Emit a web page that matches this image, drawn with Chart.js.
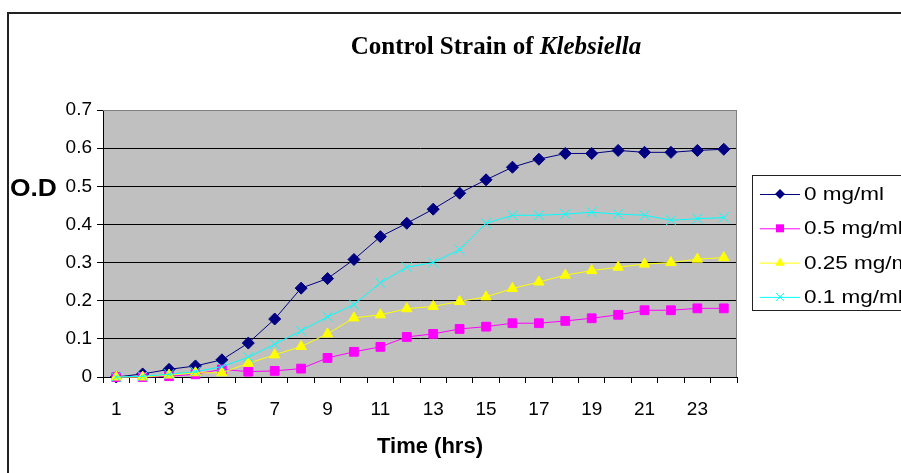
<!DOCTYPE html>
<html>
<head>
<meta charset="utf-8">
<title>Control Strain of Klebsiella</title>
<script src="https://cdn.jsdelivr.net/npm/chart.js@4.4.0/dist/chart.umd.min.js"></script>
<style>
    html, body { margin: 0; padding: 0; background: #fff; }
    #wrap { position: relative; width: 901px; height: 473px; overflow: hidden; }
    #frame { position: absolute; left: 7px; top: 12px; width: 1000px; height: 1000px;
             border-left: 2px solid #222; border-top: 2px solid #222; }
    canvas { position: absolute; left: 0; top: 0; }
    .txt { position: absolute; white-space: nowrap; color: #000; line-height: 1; }
    #title { left: 296px; width: 400px; top: 32px; text-align: center;
             font: bold 25px 'Liberation Serif', 'Times New Roman', serif; }
    #ytitle { left: 10px; top: 174px; font: bold 24px 'Liberation Sans', Arial, sans-serif;
              transform: scaleX(1.1); transform-origin: left center; }
    #xtitle { left: 330px; width: 200px; top: 433px; text-align: center;
              font: bold 22px 'Liberation Sans', Arial, sans-serif; }
</style>
</head>
<body>
<div id="wrap">
    <div id="frame"></div>
    <canvas id="odChart" width="901" height="473"></canvas>
    <div class="txt" id="title">Control Strain of <i>Klebsiella</i></div>
    <div class="txt" id="ytitle">O.D</div>
    <div class="txt" id="xtitle">Time (hrs)</div>
</div>
<script>
// Time points (hrs)
const hours = ['1', '2', '3', '4', '5', '6', '7', '8', '9', '10', '11', '12',
               '13', '14', '15', '16', '17', '18', '19', '20', '21', '22', '23', '24'];

// O.D readings per concentration
const od0mg = [0, 0.008, 0.02, 0.029, 0.045, 0.089, 0.152, 0.233, 0.258, 0.308, 0.368, 0.403,
               0.44, 0.482, 0.517, 0.55, 0.571, 0.586, 0.586, 0.594, 0.589, 0.589, 0.594, 0.597];
const od05mg = [0, 0, 0.002, 0.007, 0.02, 0.014, 0.016, 0.022, 0.05, 0.066, 0.079, 0.105,
                0.113, 0.126, 0.132, 0.141, 0.141, 0.147, 0.154, 0.163, 0.175, 0.175, 0.18, 0.18];
const od025mg = [0, 0, 0.005, 0.011, 0.011, 0.036, 0.058, 0.08, 0.113, 0.155, 0.163, 0.179,
                 0.185, 0.198, 0.21, 0.232, 0.249, 0.267, 0.279, 0.288, 0.296, 0.3, 0.309, 0.313];
const od01mg = [0, 0.002, 0.007, 0.014, 0.027, 0.052, 0.086, 0.121, 0.158, 0.19, 0.247, 0.288,
                0.3, 0.334, 0.403, 0.424, 0.424, 0.427, 0.432, 0.427, 0.424, 0.411, 0.415, 0.418];

const seriesNames = ['0 mg/ml', '0.5 mg/ml', '0.25 mg/ml', '0.1 mg/ml'];
const odTicks = ['0', '0.1', '0.2', '0.3', '0.4', '0.5', '0.6', '0.7'];

const seriesColors = ['#000080', '#FF00FF', '#FFFF00', '#00FFFF'];
const seriesStyles = ['rectRot', 'rect', 'triangle', 'crossRot'];
const seriesRadius = [6, 6.2, 6, 7];

const FONT = "'Liberation Sans', Arial, sans-serif";

function drawMarker(ctx, style, x, y, r, color) {
    ctx.save();
    ctx.fillStyle = color;
    ctx.strokeStyle = color;
    ctx.lineWidth = 1;
    ctx.beginPath();
    if (style === 'rectRot') {
        ctx.moveTo(x, y - r); ctx.lineTo(x + r, y); ctx.lineTo(x, y + r); ctx.lineTo(x - r, y);
        ctx.closePath(); ctx.fill();
    } else if (style === 'rect') {
        const s = r * 0.8;
        ctx.rect(x - s, y - s, 2 * s, 2 * s); ctx.fill();
    } else if (style === 'triangle') {
        ctx.moveTo(x, y - r); ctx.lineTo(x + r * 0.95, y + r * 0.65); ctx.lineTo(x - r * 0.95, y + r * 0.65);
        ctx.closePath(); ctx.fill();
    } else {
        const s = r * 0.8;
        ctx.moveTo(x - s, y - s); ctx.lineTo(x + s, y + s);
        ctx.moveTo(x + s, y - s); ctx.lineTo(x - s, y + s);
        ctx.stroke();
    }
    ctx.restore();
}

// grey plot area, grey top/right border
const plotArea = {
    id: 'plotArea',
    beforeDraw(chart) {
        const { ctx, chartArea: a } = chart;
        ctx.save();
        ctx.fillStyle = '#C0C0C0';
        ctx.fillRect(a.left, a.top, a.right - a.left, a.bottom - a.top);
        ctx.restore();
    },
    afterDraw(chart) {
        const { ctx, chartArea: a } = chart;
        ctx.save();
        ctx.strokeStyle = '#808080';
        ctx.lineWidth = 1;
        ctx.beginPath();
        ctx.moveTo(a.left, a.top + 0.5);
        ctx.lineTo(a.right - 0.5, a.top + 0.5);
        ctx.lineTo(a.right - 0.5, a.bottom);
        ctx.stroke();
        ctx.restore();
    }
};

// boxed legend on the right, like Excel
const boxLegend = {
    id: 'boxLegend',
    afterDraw(chart) {
        const ctx = chart.ctx;
        const top = 176, rowH = 34.3, x0 = 760, x1 = 800;
        ctx.save();
        ctx.strokeStyle = '#222';
        ctx.lineWidth = 1;
        ctx.strokeRect(752.5, top - 0.5, 220, 135);
        chart.data.datasets.forEach((ds, i) => {
            const y = top + 18 + i * rowH;
            ctx.strokeStyle = ds.borderColor;
            ctx.beginPath();
            ctx.moveTo(x0, y + 0.5);
            ctx.lineTo(x1, y + 0.5);
            ctx.stroke();
            drawMarker(ctx, ds.pointStyle, (x0 + x1) / 2, y, 5, ds.borderColor);
            ctx.save();
            ctx.translate(804, y);
            ctx.scale(1.25, 1);
            ctx.fillStyle = '#000';
            ctx.font = '18px ' + FONT;
            ctx.textBaseline = 'middle';
            ctx.fillText(ds.label, 0, 1);
            ctx.restore();
        });
        ctx.restore();
    }
};

const seriesData = [od0mg, od05mg, od025mg, od01mg];

new Chart(document.getElementById('odChart'), {
    type: 'line',
    data: {
        labels: hours,
        datasets: seriesData.map((d, i) => ({
            label: seriesNames[i],
            data: d,
            borderColor: seriesColors[i],
            backgroundColor: seriesColors[i],
            borderWidth: 1,
            pointStyle: seriesStyles[i],
            pointRadius: seriesRadius[i],
            pointBackgroundColor: seriesColors[i],
            pointBorderColor: seriesColors[i],
            pointBorderWidth: 1,
            tension: 0,
            clip: false,
            order: 4 - i
        }))
    },
    options: {
        responsive: false,
        animation: false,
        devicePixelRatio: 1,
        events: [],
        layout: { padding: { left: 0, top: 110, right: 164, bottom: 0 } },
        plugins: {
            legend: { display: false },
            title: { display: false },
            tooltip: { enabled: false }
        },
        scales: {
            x: {
                type: 'category',
                offset: true,
                afterFit: s => { s.height = 96; },
                grid: {
                    offset: true,
                    drawOnChartArea: false,
                    drawTicks: true,
                    tickLength: 6,
                    color: '#000'
                },
                border: { display: true, color: '#000', width: 1 },
                ticks: {
                    autoSkip: false,
                    maxRotation: 0,
                    padding: 15,
                    color: '#000',
                    font: { family: FONT, size: 19 },
                    callback: (v, i) => (i % 2 === 0 ? hours[i] : '')
                }
            },
            y: {
                min: 0,
                max: 0.7,
                afterFit: s => { s.width = 103; },
                grid: {
                    color: c => (c.tick && c.tick.value >= 0.69 ? '#808080' : '#000'),
                    tickColor: '#000',
                    tickLength: 6,
                    lineWidth: 1
                },
                border: { display: true, color: '#000', width: 1 },
                ticks: {
                    stepSize: 0.1,
                    padding: 5,
                    color: '#000',
                    font: { family: FONT, size: 19 },
                    callback: v => odTicks[Math.round(v * 10)]
                }
            }
        }
    },
    plugins: [plotArea, boxLegend]
});
</script>
</body>
</html>
